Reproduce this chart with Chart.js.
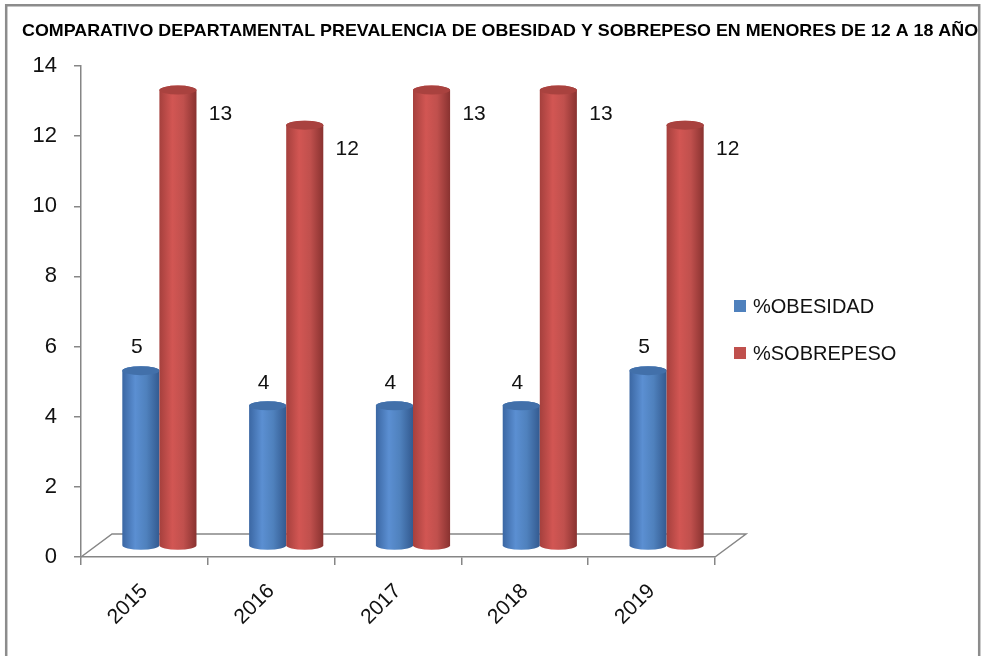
<!DOCTYPE html>
<html>
<head>
<meta charset="utf-8">
<title>Obesidad y sobrepeso 12 a 18 años</title>
<script src="https://cdn.jsdelivr.net/npm/chart.js@4.4.1/dist/chart.umd.min.js"></script>
<style>
  html, body { margin: 0; padding: 0; background: #fff; }
  #wrap { width: 982px; height: 656px; }
</style>
</head>
<body>
<div id="wrap"><canvas id="grafico" width="982" height="656"></canvas></div>
<script>
// datos por año
const anios = ["2015", "2016", "2017", "2018", "2019"];
const obesidad = [5, 4, 4, 4, 5];
const sobrepeso = [13, 12, 13, 13, 12];
const ticksY = [0, 2, 4, 6, 8, 10, 12, 14];
const series = ["%OBESIDAD", "%SOBREPESO"];

const titulo = "COMPARATIVO DEPARTAMENTAL PREVALENCIA DE OBESIDAD Y SOBREPESO EN MENORES DE 12 A 18 AÑOS";
const FUENTE = "'Liberation Sans', Arial, sans-serif";
const GRIS = "#868686";

// colores de los cilindros (borde, brillo, medio, sombra, tapa)
const tonos = [
  { izq: "#3b67a3", luz: "#5b8fd2", medio: "#4f81bd", der: "#335a90", tapa: "#4270aa", leyenda: "#4f81bd" },
  { izq: "#a5403d", luz: "#d25653", medio: "#c0504d", der: "#893230", tapa: "#a9423f", leyenda: "#c0504d" }
];

// desplazamiento de profundidad 3D
const FONDO = { dx: 31, dy: -23 };
const MEDIO = { dx: 15, dy: -11 };

function cilindro(ctx, cx, w, top, base, t) {
  const rx = w / 2, ry = 4.5;
  const g = ctx.createLinearGradient(cx - rx, 0, cx + rx, 0);
  g.addColorStop(0, t.izq);
  g.addColorStop(0.35, t.luz);
  g.addColorStop(0.65, t.medio);
  g.addColorStop(1, t.der);
  ctx.fillStyle = g;
  ctx.beginPath();
  ctx.moveTo(cx - rx, top);
  ctx.lineTo(cx - rx, base);
  ctx.ellipse(cx, base, rx, ry, 0, Math.PI, 0, true);
  ctx.lineTo(cx + rx, top);
  ctx.ellipse(cx, top, rx, ry, 0, 0, Math.PI, true);
  ctx.closePath();
  ctx.fill();

  // tapa superior
  ctx.fillStyle = t.tapa;
  ctx.beginPath();
  ctx.ellipse(cx, top, rx, ry, 0, 0, Math.PI * 2);
  ctx.fill();
}

const cilindros3D = {
  id: "cilindros3D",

  // piso en perspectiva
  beforeDatasetsDraw(chart) {
    const { ctx, chartArea } = chart;
    const y0 = chart.scales.y.getPixelForValue(0);
    const l = chartArea.left, r = chartArea.right;
    ctx.save();
    ctx.strokeStyle = GRIS;
    ctx.lineWidth = 1.5;
    ctx.beginPath();
    ctx.moveTo(l, y0);
    ctx.lineTo(l + FONDO.dx, y0 + FONDO.dy);
    ctx.lineTo(r + FONDO.dx, y0 + FONDO.dy);
    ctx.lineTo(r, y0);
    ctx.stroke();
    ctx.restore();
  },

  afterDatasetsDraw(chart) {
    const { ctx } = chart;
    ctx.save();
    chart.data.datasets.forEach((ds, i) => {
      const meta = chart.getDatasetMeta(i);
      meta.data.forEach((bar) => {
        const cx = bar.x + MEDIO.dx;
        cilindro(ctx, cx, bar.width, bar.y + MEDIO.dy, bar.base + MEDIO.dy, tonos[i]);
      });
    });

    // etiquetas de valor
    ctx.fillStyle = "#111";
    ctx.font = "21px " + FUENTE;
    ctx.textAlign = "center";
    ctx.textBaseline = "middle";
    chart.data.datasets.forEach((ds, i) => {
      const meta = chart.getDatasetMeta(i);
      meta.data.forEach((bar, j) => {
        const cx = bar.x + MEDIO.dx;
        const top = bar.y + MEDIO.dy;
        if (i === 0) {
          ctx.fillText(ds.data[j], cx - 4, top - 23);
        } else {
          ctx.fillText(ds.data[j], cx + bar.width / 2 + 24, top + 24);
        }
      });
    });
    ctx.restore();
  },

  afterDraw(chart) {
    const { ctx, chartArea } = chart;
    ctx.save();

    // título, ajustado al ancho del marco
    ctx.font = "bold 17px " + FUENTE;
    ctx.fillStyle = "#000";
    ctx.textAlign = "left";
    ctx.textBaseline = "alphabetic";
    const ancho = ctx.measureText(titulo).width;
    ctx.save();
    ctx.translate(22, 36);
    ctx.scale(968 / ancho, 1);
    ctx.fillText(titulo, 0, 0);
    ctx.restore();

    // leyenda a la derecha
    ctx.font = "20px " + FUENTE;
    ctx.textBaseline = "middle";
    const lx = chartArea.right + 19;
    chart.data.datasets.forEach((ds, i) => {
      const ly = 306 + i * 47;
      ctx.fillStyle = tonos[i].leyenda;
      ctx.fillRect(lx, ly - 6, 12, 12);
      ctx.fillStyle = "#111";
      ctx.fillText(ds.label, lx + 19, ly + 1);
    });

    // marco del gráfico
    ctx.fillStyle = "#fff";
    ctx.fillRect(980, 0, 2, chart.height);
    ctx.strokeStyle = "#8c8c8c";
    ctx.lineWidth = 2.5;
    ctx.beginPath();
    ctx.moveTo(6.2, chart.height + 5);
    ctx.lineTo(6.2, 5.2);
    ctx.lineTo(979.2, 5.2);
    ctx.lineTo(979.2, chart.height + 5);
    ctx.stroke();
    ctx.restore();
  }
};

new Chart(document.getElementById("grafico"), {
  type: "bar",
  data: {
    labels: anios,
    datasets: [
      { label: series[0], data: obesidad, backgroundColor: "rgba(0,0,0,0)" },
      { label: series[1], data: sobrepeso, backgroundColor: "rgba(0,0,0,0)" }
    ]
  },
  options: {
    responsive: false,
    animation: false,
    categoryPercentage: 0.585,
    barPercentage: 1,
    layout: { padding: { left: 22, right: 267, top: 66, bottom: 0 } },
    plugins: {
      legend: { display: false },
      tooltip: { enabled: false },
      title: { display: false }
    },
    scales: {
      x: {
        grid: { offset: true, drawOnChartArea: false, color: GRIS, tickLength: 8, lineWidth: 1.5 },
        border: { color: GRIS, width: 1.5 },
        ticks: {
          color: "#111",
          font: { family: FUENTE, size: 21 },
          minRotation: 45,
          maxRotation: 45,
          autoSkip: false,
          padding: 14
        },
        afterFit(s) { s.height = 99; }
      },
      y: {
        min: ticksY[0],
        max: ticksY[ticksY.length - 1],
        grid: { drawOnChartArea: false, color: GRIS, tickLength: 7, lineWidth: 1.5 },
        border: { color: GRIS, width: 1.5 },
        ticks: {
          stepSize: ticksY[1] - ticksY[0],
          color: "#111",
          font: { family: FUENTE, size: 22 },
          padding: 17
        },
        afterFit(s) { s.width = 59; }
      }
    }
  },
  plugins: [cilindros3D]
});
</script>
</body>
</html>
